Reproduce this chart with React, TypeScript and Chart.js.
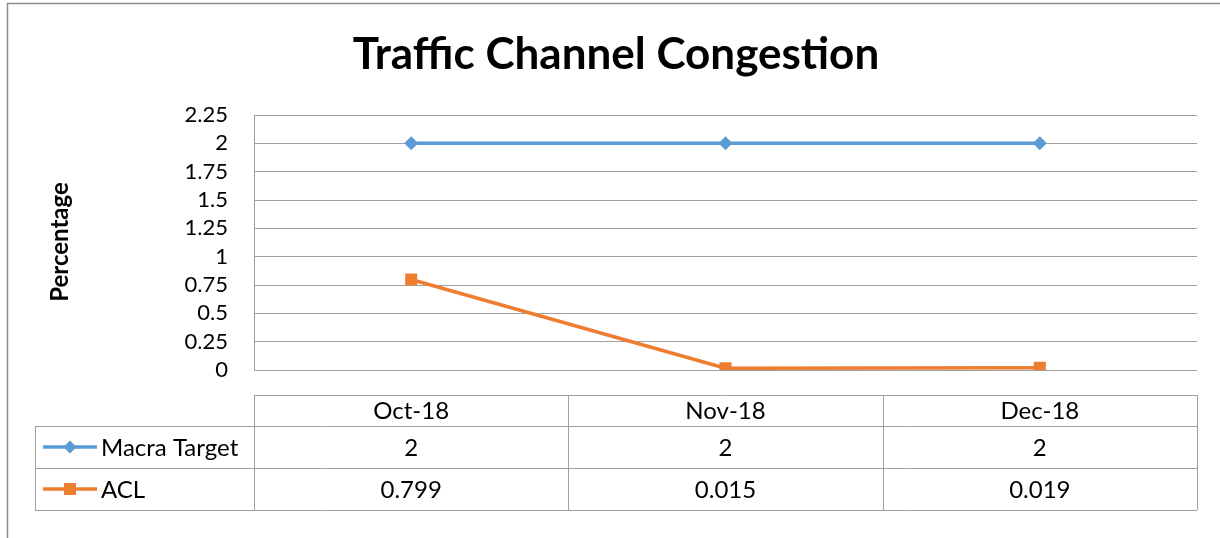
import React, { useEffect, useRef } from "react";
import { Chart, registerables } from "chart.js";

Chart.register(...registerables);

const TITLE = "Traffic Channel Congestion";
const Y_TITLE = "Percentage";
const categories = ["Oct-18", "Nov-18", "Dec-18"];
const macraTarget = [2, 2, 2];
const acl = [0.799, 0.015, 0.019];
const seriesNames = ["Macra Target", "ACL"];
const yMin = 0;
const yMax = 2.25;
const yStep = 0.25;

const BLUE = "#5B9BD5";
const ORANGE = "#ED7D31";
const GRID = "#A0A0A0";
const FONT = "Lato, 'Open Sans', sans-serif";

const tablePlugin = {
  id: "tableAndTitles",
  afterDraw(chart: any) {
    const ctx = chart.ctx as CanvasRenderingContext2D;
    const area = chart.chartArea;
    const xs = chart.scales.x;
    ctx.save();

    // outer frame (partially visible)
    ctx.strokeStyle = "#8C8C8C";
    ctx.lineWidth = 1.5;
    ctx.beginPath();
    ctx.moveTo(7.5, 540);
    ctx.lineTo(7.5, 3.5);
    ctx.lineTo(1222, 3.5);
    ctx.stroke();

    // title
    ctx.fillStyle = "#000";
    ctx.font = `bold 44px ${FONT}`;
    ctx.textAlign = "center";
    ctx.textBaseline = "middle";
    ctx.fillText(TITLE, 616, 55);

    // y title
    ctx.save();
    ctx.translate(60, 242);
    ctx.rotate(-Math.PI / 2);
    ctx.font = `bold 24px ${FONT}`;
    ctx.fillText(Y_TITLE, 0, 0);
    ctx.restore();

    // table geometry
    const n = categories.length;
    const band = (area.right - area.left) / n;
    const bounds: number[] = [];
    for (let i = 0; i < n; i++) bounds.push(xs.getPixelForValue(i) - band / 2);
    bounds.push(area.right);
    const yHead = 395;
    const yRow1 = 426;
    const yRow2 = 468;
    const yEnd = 510;
    const legLeft = 35;

    ctx.strokeStyle = GRID;
    ctx.lineWidth = 1;
    const hl = (x1: number, x2: number, y: number) => {
      ctx.beginPath();
      ctx.moveTo(x1, Math.round(y) + 0.5);
      ctx.lineTo(x2, Math.round(y) + 0.5);
      ctx.stroke();
    };
    const vl = (x: number, y1: number, y2: number) => {
      ctx.beginPath();
      ctx.moveTo(Math.round(x) + 0.5, y1);
      ctx.lineTo(Math.round(x) + 0.5, y2);
      ctx.stroke();
    };
    hl(bounds[0], bounds[n], yHead);
    hl(legLeft, bounds[n], yRow1);
    hl(legLeft, bounds[n], yRow2);
    hl(legLeft, bounds[n], yEnd);
    vl(legLeft, yRow1, yEnd);
    bounds.forEach((b) => vl(b, yHead, yEnd));

    ctx.fillStyle = "#000";
    ctx.font = `24px ${FONT}`;
    ctx.textAlign = "center";
    ctx.textBaseline = "middle";
    const rows = [macraTarget, acl];
    categories.forEach((c, i) => {
      const cx = xs.getPixelForValue(i);
      ctx.fillText(c, cx, (yHead + yRow1) / 2 + 1);
      ctx.fillText(String(rows[0][i]), cx, (yRow1 + yRow2) / 2 + 1);
      ctx.fillText(String(rows[1][i]), cx, (yRow2 + yEnd) / 2 + 1);
    });

    // legend keys
    const rowMid = [(yRow1 + yRow2) / 2, (yRow2 + yEnd) / 2];
    const colors = [BLUE, ORANGE];
    seriesNames.forEach((name, k) => {
      const y = rowMid[k];
      ctx.strokeStyle = colors[k];
      ctx.lineWidth = 3.5;
      ctx.beginPath();
      ctx.moveTo(43, y);
      ctx.lineTo(97, y);
      ctx.stroke();
      ctx.fillStyle = colors[k];
      if (k === 0) {
        ctx.beginPath();
        ctx.moveTo(70, y - 6.5);
        ctx.lineTo(76.5, y);
        ctx.lineTo(70, y + 6.5);
        ctx.lineTo(63.5, y);
        ctx.closePath();
        ctx.fill();
      } else {
        ctx.fillRect(64, y - 6, 12, 12);
      }
      ctx.fillStyle = "#000";
      ctx.textAlign = "left";
      ctx.fillText(name, 101, y + 1);
    });

    ctx.restore();
  },
};

export default function App() {
  const ref = useRef<HTMLCanvasElement | null>(null);
  useEffect(() => {
    document.body.style.margin = "0";
    const canvas = ref.current!;
    const chart = new Chart(canvas, {
      type: "line",
      data: {
        labels: categories,
        datasets: [
          {
            label: seriesNames[0],
            data: macraTarget,
            borderColor: BLUE,
            backgroundColor: BLUE,
            borderWidth: 3.5,
            pointStyle: "rectRot",
            pointRadius: 7,
            pointBorderWidth: 0,
          },
          {
            label: seriesNames[1],
            data: acl,
            borderColor: ORANGE,
            backgroundColor: ORANGE,
            borderWidth: 3.5,
            pointStyle: "rect",
            pointRadius: 8.5,
            pointBorderWidth: 0,
          },
        ],
      },
      options: {
        responsive: false,
        animation: false,
        layout: { padding: { left: 8, right: 23, top: 115, bottom: 168 } },
        plugins: {
          legend: { display: false },
          title: { display: false },
          tooltip: { enabled: false },
        },
        scales: {
          x: {
            type: "category",
            offset: true,
            display: false,
          },
          y: {
            min: yMin,
            max: yMax,
            afterFit: (s: any) => {
              s.width = 246;
            },
            ticks: {
              stepSize: yStep,
              autoSkip: false,
              padding: 26,
              color: "#000",
              font: { family: FONT, size: 22 },
              callback: (v: any) => String(v),
            },
            grid: { color: GRID, drawTicks: false, lineWidth: 1 },
            border: { display: true, color: GRID },
          },
        },
      },
      plugins: [tablePlugin],
    });
    return () => chart.destroy();
  }, []);
  return <canvas ref={ref} width={1220} height={538} style={{ display: "block" }} />;
}
